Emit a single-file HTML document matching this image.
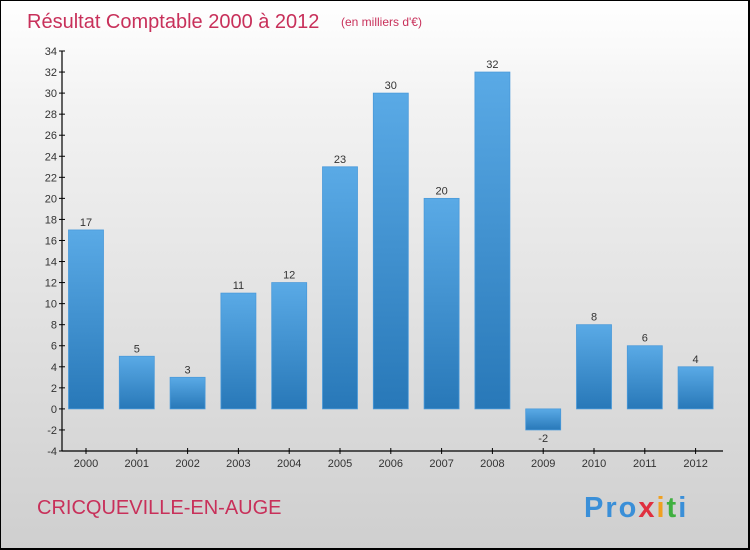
<!DOCTYPE html>
<html><head><meta charset="utf-8"><style>
body{margin:0;}
#c{width:750px;height:550px;position:relative;box-sizing:border-box;border:1px solid #000;border-right-width:2px;border-bottom-width:2px;background:linear-gradient(#ffffff,#f2f2f2 20%,#cfcfcf);font-family:"Liberation Sans",sans-serif;overflow:hidden}
svg{position:absolute;left:0;top:0}
</style></head><body>
<div id="c">
<svg id="s" width="750" height="550">
<defs><linearGradient id="g" x1="0" y1="0" x2="0" y2="1"><stop offset="0" stop-color="#5aaae6"/><stop offset="1" stop-color="#2878b8"/></linearGradient></defs>
<text x="26" y="27" font-size="20" fill="#c8305a">Résultat Comptable 2000 à 2012</text>
<text x="340" y="25" font-size="12" fill="#c8305a">(en milliers d'€)</text>
<text x="36" y="513" font-size="20" fill="#c8305a">CRICQUEVILLE-EN-AUGE</text>
<text x="583" y="516" font-size="29" font-weight="bold" letter-spacing="2" fill="#3a8fd8">Pro<tspan fill="#e03040">x</tspan><tspan fill="#f0a020">i</tspan><tspan fill="#40b040">t</tspan><tspan fill="#3a8fd8">i</tspan></text>
</svg>
</div>
<script>
const years=["2000","2001","2002","2003","2004","2005","2006","2007","2008","2009","2010","2011","2012"];
const values=[17,5,3,11,12,23,30,20,32,-2,8,6,4];
const yTicks=[-4,-2,0,2,4,6,8,10,12,14,16,18,20,22,24,26,28,30,32,34];
const s=document.getElementById('s');
const NS='http://www.w3.org/2000/svg';
const y0=450,y1=50,vmin=-4,vmax=34;
const Y=v=>y0-(v-vmin)/(vmax-vmin)*(y0-y1);
const X=i=>85+i*50.8;
function el(t,a){const e=document.createElementNS(NS,t);for(const k in a)e.setAttribute(k,a[k]);s.appendChild(e);return e;}
const ya=el('line',{x1:61,y1:50,x2:61,y2:450,stroke:'#000','stroke-width':1.2});


const xa=el('line',{x1:61,y1:450,x2:722,y2:450,stroke:'#000','stroke-width':1.2});


yTicks.forEach(v=>{
 const t=el('line',{x1:58,x2:64,y1:Y(v),y2:Y(v),stroke:'#000'});
 
 
 const l=el('text',{x:56,y:Y(v)+4,'font-size':11,fill:'#333','text-anchor':'end'});
 l.textContent=v;
 
 
});
years.forEach((yr,i)=>{
 const x=X(i),v=values[i];
 const t=el('line',{x1:x,x2:x,y1:447,y2:453,stroke:'#000'});
 
 
 const l=el('text',{x:x,y:466,'font-size':11,fill:'#333','text-anchor':'middle'});
 l.textContent=yr;
 
 
 const top=Math.min(Y(v),Y(0)),h=Math.abs(Y(v)-Y(0));
 const b=el('rect',{x:x-17.5,y:top,width:35,height:h,fill:'url(#g)',stroke:'#4a9ada','stroke-width':0.8});
 
 
 const vl=el('text',{x:x,y:v>=0?Y(v)-4:Y(v)+12,'font-size':11,fill:'#333','text-anchor':'middle'});
 vl.textContent=v;
 
 
});
</script>
</body></html>
